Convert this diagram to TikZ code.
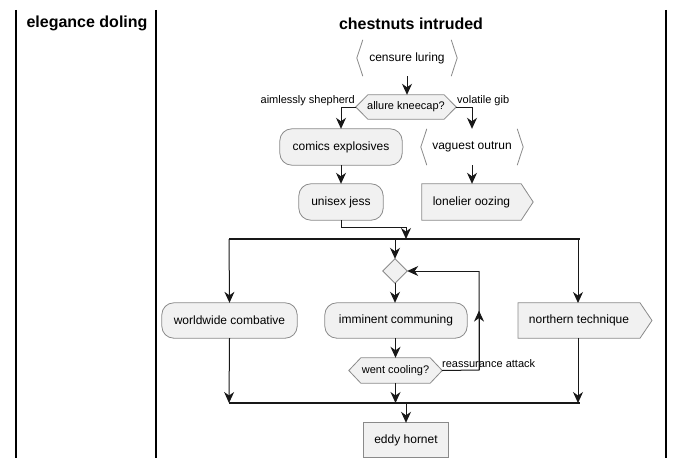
\documentclass[tikz,border=0pt]{standalone}
\usepackage{fontspec}
\setmainfont{Liberation Sans}
\usetikzlibrary{arrows.meta,backgrounds,calc}
\definecolor{nfill}{HTML}{F1F1F1}
\definecolor{nline}{HTML}{8A8A8A}
\definecolor{ink}{HTML}{181818}
\tikzset{
  box/.style={inner sep=0pt, font=\fontsize{12}{14}\selectfont, text=black},
  lbl/.style={inner sep=0pt, font=\fontsize{11}{13}\selectfont, text=black},
  lane/.style={line width=1.5pt, black},
  shp/.style={fill=nfill, draw=nline, line width=0.8pt},
  brk/.style={draw=nline, line width=0.8pt},
  conn/.style={draw=ink, line width=1pt, -{Stealth[length=11pt,width=10pt,inset=3.5pt]}},
  plain/.style={draw=ink, line width=1pt},
  bar/.style={draw=ink, line width=2.5pt},
}
\begin{document}
\begin{tikzpicture}[x=1pt,y=-1pt]
\useasboundingbox (0,0) rectangle (684,468);
% lanes
\draw[lane] (16,10) -- (16,458);
\draw[lane] (156,10) -- (156,458);
\draw[lane] (666,10) -- (666,458);
\node[inner sep=0pt, font=\bfseries\fontsize{16}{18}\selectfont] (t1) at (87,23) {elegance doling};
\node[inner sep=0pt, font=\bfseries\fontsize{16}{18}\selectfont] (t2) at (411,24) {chestnuts intruded};

% nodes
\node[box, minimum width=100pt, minimum height=36pt] (censure) at (407,58) {censure luring};
\node[box, font=\fontsize{11}{13}\selectfont, minimum width=100pt, minimum height=24pt] (allure) at (406,107) {allure kneecap?};
\node[box, minimum width=122pt, minimum height=36pt] (comics) at (341,147) {comics explosives};
\node[box, minimum width=84pt, minimum height=36pt] (unisex) at (341,202) {unisex jess};
\node[box, minimum width=102pt, minimum height=36pt] (vaguest) at (472,147) {vaguest outrun};
\node[box, minimum width=99pt, minimum height=36pt] (lonelier) at (471.5,202) {lonelier oozing};
\node[box, minimum width=135pt, minimum height=35pt] (world) at (229.5,320.5) {worldwide combative};
\node[box, minimum width=24pt, minimum height=24pt] (dia) at (395,271) {};
\node[box, minimum width=142pt, minimum height=35pt] (imminent) at (396,320.5) {imminent communing};
\node[box, font=\fontsize{11}{13}\selectfont, minimum width=93pt, minimum height=25pt] (went) at (395.5,370.5) {went cooling?};
\node[box, minimum width=122pt, minimum height=35pt] (northern) at (579,320.5) {northern technique};
\node[box, minimum width=84pt, minimum height=34pt] (eddy) at (406,440) {eddy hornet};

\begin{scope}[on background layer]
  % bracket shapes
  \fill[white] (censure.north west) rectangle (censure.south east);
  \draw[brk] ([xshift=6]censure.north west) -- (censure.west) -- ([xshift=6]censure.south west);
  \draw[brk] ([xshift=-6]censure.north east) -- (censure.east) -- ([xshift=-6]censure.south east);
  \draw[brk] ([xshift=6]vaguest.north west) -- (vaguest.west) -- ([xshift=6]vaguest.south west);
  \draw[brk] ([xshift=-6]vaguest.north east) -- (vaguest.east) -- ([xshift=-6]vaguest.south east);
  % hexagons
  \path[shp] (allure.west) -- ([xshift=12]allure.north west) -- ([xshift=-12]allure.north east) -- (allure.east) -- ([xshift=-12]allure.south east) -- ([xshift=12]allure.south west) -- cycle;
  \path[shp] (went.west) -- ([xshift=12]went.north west) -- ([xshift=-12]went.north east) -- (went.east) -- ([xshift=-12]went.south east) -- ([xshift=12]went.south west) -- cycle;
  % rounded
  \path[shp, rounded corners=12pt] (comics.north west) rectangle (comics.south east);
  \path[shp, rounded corners=12pt] (unisex.north west) rectangle (unisex.south east);
  \path[shp, rounded corners=12pt] (world.north west) rectangle (world.south east);
  \path[shp, rounded corners=12pt] (imminent.north west) rectangle (imminent.south east);
  % signal shapes
  \path[shp] (lonelier.north west) -- (lonelier.north east) -- ([xshift=12]lonelier.east) -- (lonelier.south east) -- (lonelier.south west) -- cycle;
  \path[shp] ([xshift=-61]northern.north) -- ([xshift=61]northern.north) -- ([xshift=73]northern.center) -- ([xshift=61]northern.south) -- ([xshift=-61]northern.south) -- cycle;
  % diamond
  \path[shp] (dia.north) -- (dia.east) -- (dia.south) -- (dia.west) -- cycle;
  % rectangle
  \path[shp] (eddy.north west) rectangle (eddy.south east);
\end{scope}

% coordinates
\coordinate (fL) at (229,239);
\coordinate (fR) at (580,239);
\coordinate (jL) at (229,403);
\coordinate (jR) at (580,403);
\coordinate (fin) at (406,239);
\coordinate (jout) at (406,403);
\coordinate (loopx) at (479,370);

% connectors
\draw[conn] (censure.south) -- (censure.south |- allure.north);
\draw[conn] (allure.west) -| (comics.north);
\draw[conn] (allure.east) -| (vaguest.north);
\draw[conn] (comics.south) -- (unisex.north);
\draw[conn] (vaguest.south) -- (vaguest.south |- lonelier.north);
\draw[conn] (unisex.south) -- ++(0,7) -| (fin);
\draw[bar] (fL) -- (fR);
\draw[conn] (fL) -- (world.north);
\draw[conn] (dia.north |- fL) -- (dia.north);
\draw[conn] (578,239) -- (578,303);
\draw[conn] (dia.south) -- (dia.south |- imminent.north);
\draw[conn] (went.north |- imminent.south) -- (went.north);
\draw[plain] (went.east) -- (loopx) -- (loopx |- dia.east) coordinate (loopt);
\draw[conn] (loopx) -- ($(loopx)!0.6!(loopt)$);
\draw[conn] (loopt) -- (dia.east);
\draw[conn] (went.south) -- (went.south |- jL);
\draw[conn] (world.south) -- (jL);
\draw[conn] (578,338) -- (578,403);
\draw[bar] (jL) -- (jR);
\draw[conn] (jout) -- (eddy.north);

% labels
\node[lbl, anchor=east] (l1) at (355,101) {aimlessly shepherd};
\node[lbl, anchor=west] (l2) at (457,101) {volatile gib};
\node[lbl, anchor=west] (l3) at (442,364) {reassurance attack};
\end{tikzpicture}
\end{document}
